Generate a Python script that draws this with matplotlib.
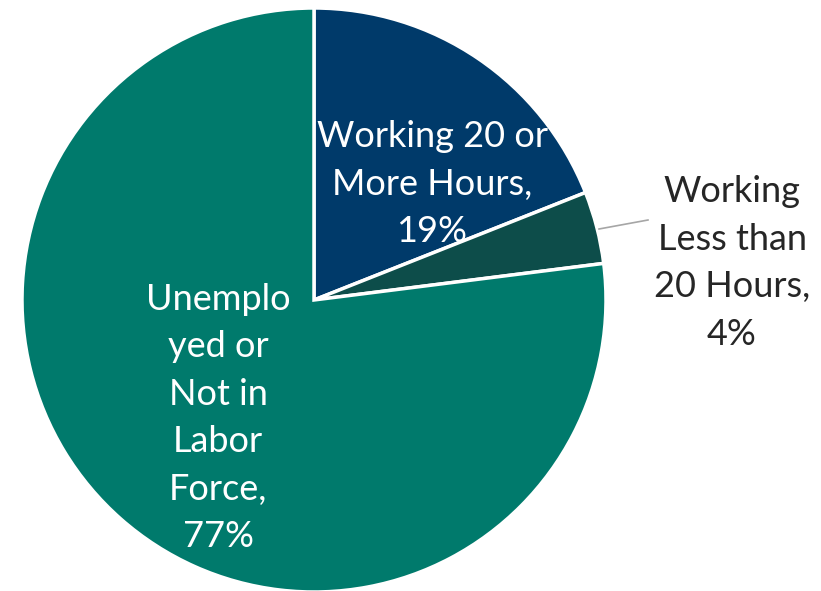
import matplotlib
matplotlib.use("Agg")
import matplotlib.pyplot as plt

categories = ["Working 20 or\nMore Hours,", "Working\nLess than\n20 Hours,", "Unemplo\nyed or\nNot in\nLabor\nForce,"]
values = [19, 4, 77]
colors = ["#003A6A", "#0D4D4A", "#007A6C"]

W, H = 821, 591
fig = plt.figure(figsize=(W / 100, H / 100), dpi=100)
ax = fig.add_axes([0, 0, 1, 1])

cx, cy, r = 314, H - 300, 292
wedges, _ = ax.pie(values, colors=colors, startangle=90, counterclock=False,
                   center=(cx, cy), radius=r, frame=True,
                   wedgeprops=dict(edgecolor="white", linewidth=2.5))
ax.set_xlim(0, W)
ax.set_ylim(0, H)
ax.set_aspect("equal")
ax.axis("off")

font = dict(family=["Lato", "DejaVu Sans"], fontweight="normal", fontsize=26)
labels = [f"{c}\n{v}%" for c, v in zip(categories, values)]
ax.text(432, H - 184, labels[0], ha="center", va="center", color="white",
        linespacing=1.54, **font)
ax.text(732, H - 263, labels[1], ha="center", va="center", color="#262626",
        linespacing=1.54, **font)
ax.text(218, H - 418, labels[2], ha="center", va="center", color="white",
        linespacing=1.54, **font)
ax.plot([599, 648], [H - 229, H - 220], color="#A6A6A6", linewidth=1.2)

fig.savefig("out.png", dpi=100)
